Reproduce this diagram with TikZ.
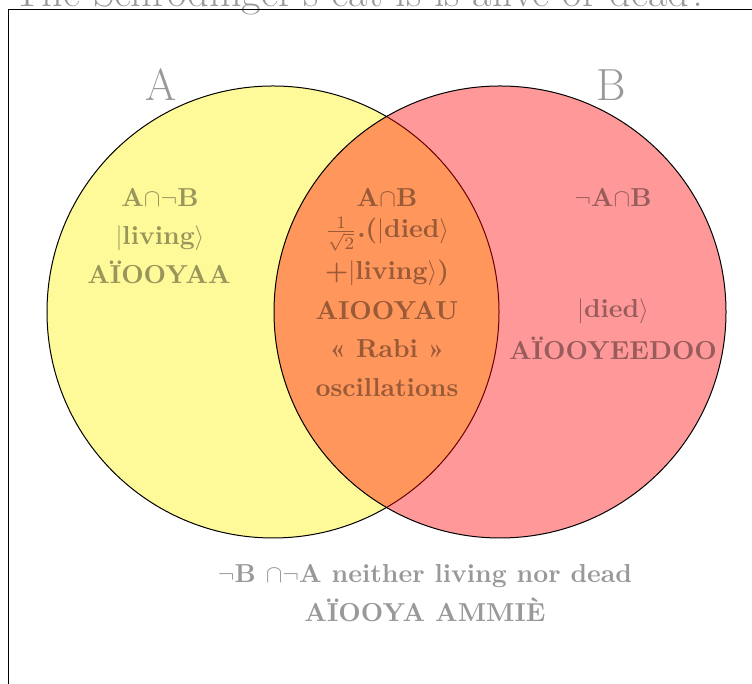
\documentclass[tikz,border=0pt]{standalone}
\usepackage{fontspec}
\begin{document}
\begin{tikzpicture}[x=0.4pt,y=0.4pt,
  txt/.style={text opacity=0.4, inner sep=0pt, anchor=base, font=\fontsize{10.4}{12}\selectfont\bfseries},
  setlabel/.style={text opacity=0.4, inner sep=0pt, anchor=base, font=\fontsize{18}{21}\selectfont},
  setcircle/.style={circle, draw=black, line width=0.4pt, minimum size=180.8pt, inner sep=0pt, fill opacity=0.4}]
\clip (0,0) rectangle (752,684);
% frame and title
\draw[line width=0.4pt] (8,674) rectangle (900,-100);
\node[text opacity=0.4, inner sep=0pt, anchor=base west, font=\fontsize{16.9}{20}\selectfont] (title) at (13,677) {The Schrödinger's cat is is alive or dead?};
% sets
\node[setcircle, fill=yellow] (circA) at (273,372) {};
\node[setcircle, fill=red] (circB) at (500,372) {};
\node[setlabel] (labA) at (161,583) {A};
\node[setlabel] (labB) at (611,583) {B};
% A only
\node[txt] (a1) at (160,477) {A$\cap\neg$B};
\node[txt] (a2) at (160,439) {$|$living$\rangle$};
\node[txt] (a3) at (159,400) {AÏOOYAA};
% A and B
\node[txt] (m1) at (387,477) {A$\cap$B};
\node[txt] (m2) at (387,446) {$\frac{1}{\sqrt{2}}$.($|$died$\rangle$};
\node[txt] (m3) at (387,404) {+$|$living$\rangle$)};
\node[txt] (m4) at (387,364) {AIOOYAU};
\node[txt] (m5) at (387,326) {« Rabi »};
\node[txt] (m6) at (387,287) {oscillations};
% B only
\node[txt] (b1) at (613,477) {$\neg$A$\cap$B};
\node[txt] (b2) at (613,366) {$|$died$\rangle$};
\node[txt] (b3) at (613,324) {AÏOOYEEDOO};
% neither
\node[txt] (n1) at (425,101) {$\neg$B $\cap\neg$A neither living nor dead};
\node[txt] (n2) at (425,62) {AÏOOYA AMMIÈ};
\end{tikzpicture}
\end{document}
